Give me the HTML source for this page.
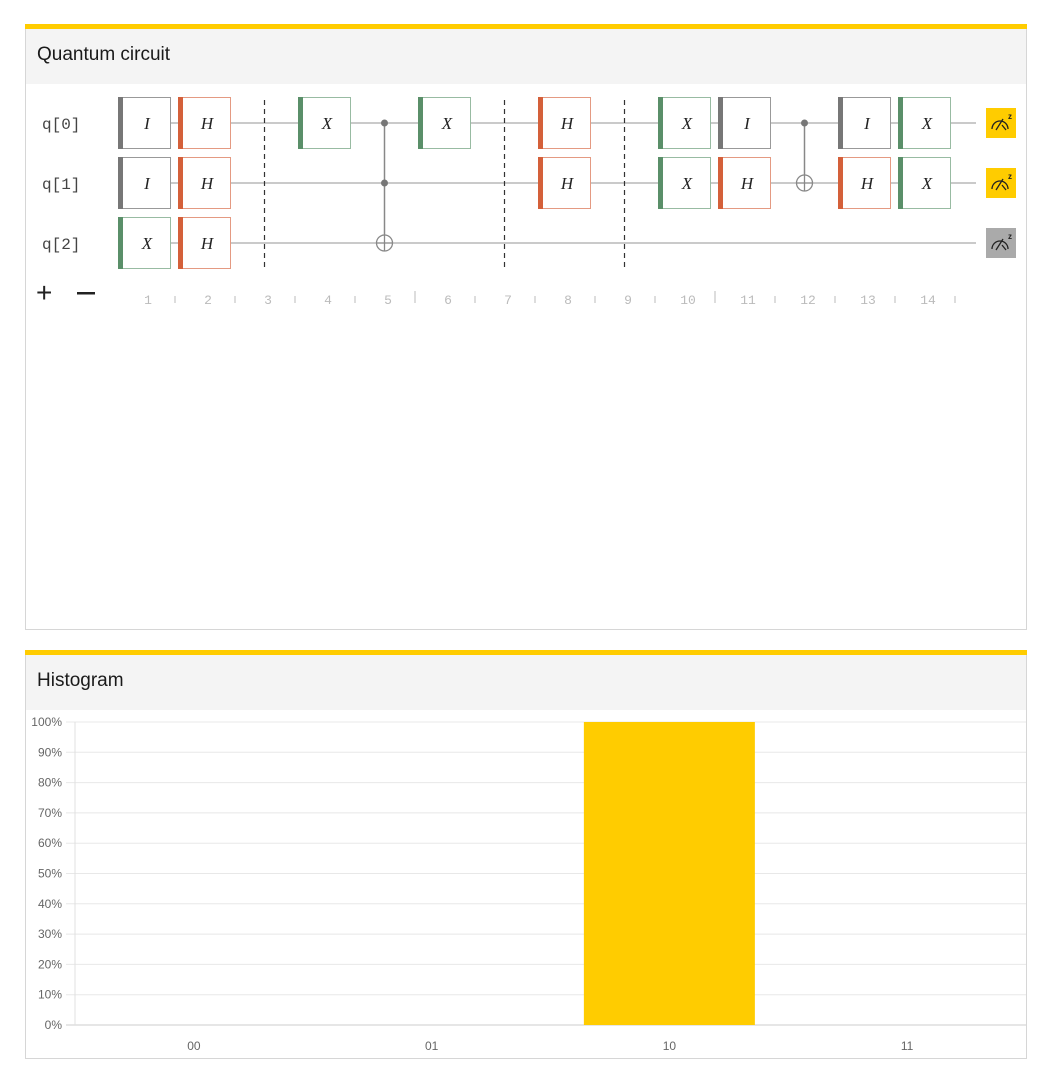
<!DOCTYPE html>
<html><head><meta charset="utf-8"><style>
body{margin:0;background:#fff;width:1052px;height:1089px;position:relative;font-family:"Liberation Sans",sans-serif;overflow:hidden}
.panel{position:absolute;left:25px;width:1000px;border:1px solid #d6d6d6;border-top:none;background:#fff}
.bar{height:5px;background:#ffcc00;margin:0 -1px}
.hdr{background:#f4f4f4;height:55px;box-sizing:border-box;padding:15px 0 0 11px;font-size:19px;color:#1a1a1a;font-family:"Liberation Sans",sans-serif;font-weight:normal}
svg{position:absolute;left:0;top:0}
</style></head><body>
<div class="panel" style="top:24px;height:605px">
<div class="bar"></div>
<div class="hdr">Quantum circuit</div>
</div>
<div class="panel" style="top:650px;height:408px">
<div class="bar"></div>
<div class="hdr">Histogram</div>
</div>
<svg id="c" width="1052" height="1089"></svg>
<script>
const qubits=["q[0]","q[1]","q[2]"];
const gates=[[1,0,"I"],[1,1,"I"],[1,2,"X"],[2,0,"H"],[2,1,"H"],[2,2,"H"],[4,0,"X"],[6,0,"X"],[8,0,"H"],[8,1,"H"],[10,0,"X"],[10,1,"X"],[11,0,"I"],[11,1,"H"],[13,0,"I"],[13,1,"H"],[14,0,"X"],[14,1,"X"]];
const barriers=[3,7,9];
const controlled=[{col:5,controls:[0,1],target:2},{col:12,controls:[0],target:1}];
const measured=[true,true,false];
const categories=["00","01","10","11"];
const probs=[0,0,100,0];
const yTicks=[0,10,20,30,40,50,60,70,80,90,100];
const NS="http://www.w3.org/2000/svg";
const svg=document.getElementById('c');
function mk(t,a,txt){const e=document.createElementNS(NS,t);for(const k in a)e.setAttribute(k,a[k]);if(txt!==undefined)e.textContent=txt;svg.appendChild(e);return e;}
const colX=c=>144.5+(c-1)*60, wireY=q=>123+q*60;
const col={I:["#777","#999"],H:["#d4603a","#e49a82"],X:["#5a8f69","#98bba2"]};
qubits.forEach((q,i)=>{
 let w=mk('line',{x1:171,x2:976,y1:wireY(i),y2:wireY(i),stroke:'#aaa','stroke-width':1.3});
 
 let l=mk('text',{x:42,y:wireY(i)+6,'font-family':'Liberation Mono,monospace','font-size':16,fill:'#444'},q);
 
});
barriers.forEach(b=>{let e=mk('line',{x1:colX(b),x2:colX(b),y1:100,y2:268,stroke:'#333','stroke-dasharray':'5,4','stroke-width':1.2});
 });
controlled.forEach(g=>{const x=colX(g.col);const ys=g.controls.map(wireY);const ty=wireY(g.target);
 mk('line',{x1:x,x2:x,y1:Math.min(...ys,ty),y2:Math.max(...ys,ty),stroke:'#888','stroke-width':1.5});
 ys.forEach(y=>{let d=mk('circle',{cx:x,cy:y,r:3.5,fill:'#777'});});
 let t=mk('circle',{cx:x,cy:ty,r:8,fill:'#fff',stroke:'#888','stroke-width':1.3});
 mk('line',{x1:x-8,x2:x+8,y1:ty,y2:ty,stroke:'#888','stroke-width':1.3});mk('line',{x1:x,x2:x,y1:ty-8,y2:ty+8,stroke:'#888','stroke-width':1.3});
});
gates.forEach(([c,q,n])=>{const x=118+(c-1)*60,y=wireY(q)-26;const [d,l]=col[n];
 let r=mk('rect',{x:x+0.5,y:y+0.5,width:52,height:51,fill:'#fff',stroke:l,'stroke-width':1});
 
 mk('rect',{x:x,y:y,width:5,height:52,fill:d});
 mk('text',{x:x+29,y:y+32,'text-anchor':'middle','font-family':'Liberation Serif,serif','font-style':'italic','font-size':17,fill:'#222'},n);
});
measured.forEach((m,i)=>{const y=wireY(i)-15;
 let r=mk('rect',{x:986,y:y,width:30,height:30,fill:m?'#ffcc00':'#aaa'});
 mk('path',{d:`M992 ${y+21} A8 8 0 0 1 1008 ${y+21} M996 ${y+22} L1003 ${y+11} M1002 ${y+17} L1006 ${y+22}`,fill:'none',stroke:'#222','stroke-width':1.3});
 mk('text',{x:1008,y:y+11,'font-size':8,'font-weight':'bold',fill:'#222'},'z');
});
for(let c=1;c<=14;c++){let t=mk('text',{x:colX(c)+3.5,y:304,'text-anchor':'middle','font-family':'Liberation Mono,monospace','font-size':13,fill:'#bbb'},String(c));
 
 const big=(c===5||c===10);const tx=colX(c)+30.5;
 mk('line',{x1:tx,x2:tx,y1:big?291:296,y2:303,stroke:'#bbb','stroke-width':1});}
let p=mk('text',{x:36,y:302,'font-size':28,fill:'#222'},'+');
let mi=mk('rect',{x:77,y:292,width:18,height:2.5,fill:'#222'});
const X0=75,X1=1026,Y0=1025,Y1=722,bw=(X1-X0)/categories.length;
const yS=v=>Y0-(v/100)*(Y0-Y1);
yTicks.forEach(v=>{let g=mk('line',{x1:66,x2:X1,y1:yS(v),y2:yS(v),stroke:v===0?'#ccc':'#e8e8e8','stroke-width':1});
 
 let t=mk('text',{x:62,y:yS(v)+4,'text-anchor':'end','font-size':12,fill:'#666'},v+'%');});
mk('line',{x1:X0,x2:X0,y1:Y1,y2:Y0,stroke:'#e0e0e0'});
categories.forEach((c,i)=>{const cx=X0+bw*(i+0.5);
 if(probs[i]>0){let b=mk('rect',{x:cx-85.5,y:yS(probs[i]),width:171,height:Y0-yS(probs[i]),fill:'#ffcc00'});
  }
 let t=mk('text',{x:cx,y:1050,'text-anchor':'middle','font-size':12,fill:'#666'},c);});
</script>
</body></html>
